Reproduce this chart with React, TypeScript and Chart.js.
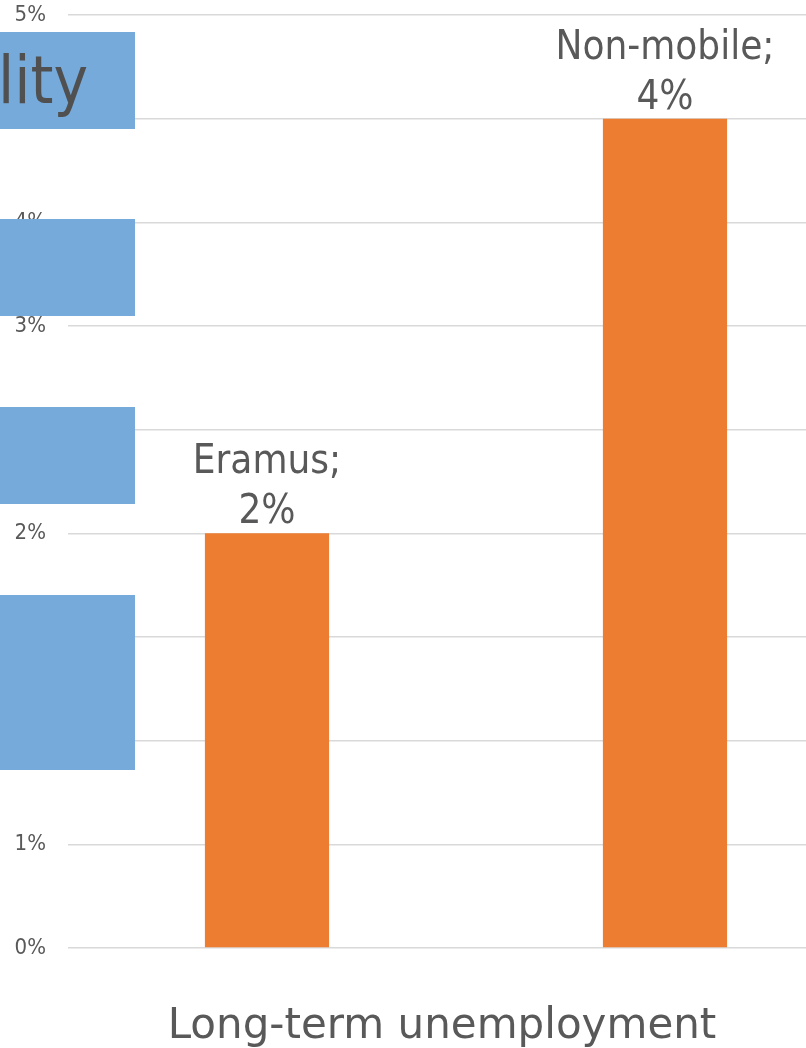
import React, { useEffect, useRef } from "react";
import { Chart, registerables } from "chart.js";

Chart.register(...registerables);

const categories = ["Eramus", "Non-mobile"];
const values = [2, 4];
const axisTitle = "Long-term unemployment";
const yMax = 4.5;
const yStep = 0.5;

const FONT = "'DejaVu Sans Condensed', 'DejaVu Sans', sans-serif";
const TITLE_FONT = "'DejaVu Sans', sans-serif";
const TICK_FONT = "'Liberation Sans Narrow', 'DejaVu Sans Condensed', sans-serif";
const GRAY = "#595959";

const dataLabelPlugin = {
  id: "dataLabels",
  afterDatasetsDraw(chart: any) {
    const ctx = chart.ctx;
    const meta = chart.getDatasetMeta(0);
    ctx.save();
    ctx.fillStyle = GRAY;
    ctx.font = `40px ${FONT}`;
    ctx.textAlign = "center";
    ctx.textBaseline = "alphabetic";
    meta.data.forEach((el: any, i: number) => {
      const x = el.x;
      const y = el.y;
      ctx.fillText(`${values[i]}%`, x, y - 10);
      ctx.fillText(`${categories[i]};`, x, y - 60);
    });
    ctx.restore();
  },
};

export default function App() {
  const ref = useRef<HTMLCanvasElement>(null);
  useEffect(() => {
    if (!ref.current) return;
    const chart = new Chart(ref.current, {
      type: "bar",
      data: {
        labels: categories,
        datasets: [
          {
            data: values,
            backgroundColor: "#ED7D31",
            categoryPercentage: 1,
            barPercentage: 0.312,
          },
        ],
      },
      options: {
        responsive: false,
        animation: false,
        devicePixelRatio: 1,
        layout: { padding: { left: 20, right: 0, top: 15, bottom: 0 } },
        plugins: {
          legend: { display: false },
          tooltip: { enabled: false },
          title: {
            display: true,
            position: "bottom",
            text: axisTitle,
            color: GRAY,
            font: { family: TITLE_FONT, size: 42, lineHeight: 1, weight: "normal" },
            padding: { top: 58, bottom: 0 },
          },
        },
        scales: {
          x: { display: false },
          y: {
            min: 0,
            max: yMax,
            border: { display: false },
            grid: { color: "#d9d9d9", lineWidth: 1.5, drawTicks: false },
            ticks: {
              stepSize: yStep,
              padding: 22,
              color: GRAY,
              font: { family: TICK_FONT, size: 22 },
              callback: (v: any) => `${Math.round(Number(v))}%`,
            },
            afterFit: (s: any) => {
              s.width = 48;
              s.paddingTop = 0;
              s.paddingBottom = 0;
              s._computeLabelArea = () => undefined;
            },
          },
        },
      },
      plugins: [dataLabelPlugin],
    });
    return () => chart.destroy();
  }, []);

  const box = (top: number, height: number): React.CSSProperties => ({
    position: "absolute",
    left: 0,
    top,
    width: 135,
    height,
    background: "#75AADB",
    overflow: "hidden",
  });

  return (
    <div
      style={{
        position: "absolute",
        left: 0,
        top: 0,
        width: 806,
        height: 1048,
        overflow: "hidden",
        background: "#ffffff",
      }}
    >
      <canvas ref={ref} width={864} height={1048} style={{ display: "block" }} />
      <div style={box(32, 97)}>
        <div
          style={{
            position: "absolute",
            right: 47,
            top: 0,
            fontFamily: FONT,
            fontSize: 65,
            lineHeight: "97px",
            color: "#505050",
            whiteSpace: "nowrap",
          }}
        >
          lity
        </div>
      </div>
      <div style={box(219, 97)} />
      <div style={box(407, 97)} />
      <div style={box(595, 175)} />
    </div>
  );
}
